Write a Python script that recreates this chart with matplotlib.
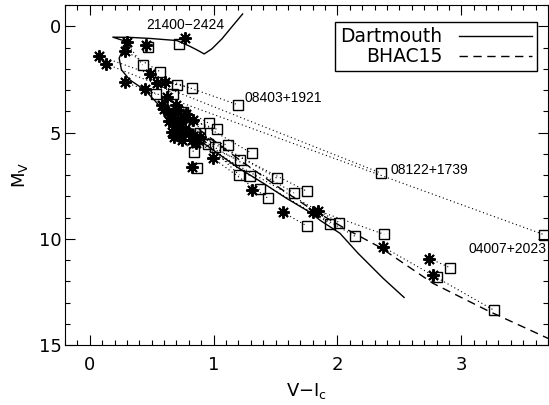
import numpy as np
import matplotlib
matplotlib.use("Agg")
import matplotlib.pyplot as plt
from matplotlib.ticker import MultipleLocator

# Isochrones (V-Ic, Mv)
dart_x = [1.234, 1.148, 1.067, 0.986, 0.924, 0.865, 0.808, 0.703, 0.485, 0.323, 0.186,
          0.297, 0.267, 0.237, 0.256, 0.323, 0.445, 0.620, 0.863, 1.186, 1.400, 1.590,
          1.778, 1.860, 2.020, 2.166, 2.369, 2.538]
dart_y = [-0.58, 0.02, 0.59, 1.06, 1.30, 1.11, 0.94, 0.67, 0.57, 0.52, 0.51,
          0.72, 1.11, 1.50, 2.05, 2.52, 3.00, 4.09, 5.27, 6.61, 7.38, 8.10,
          8.75, 9.13, 9.74, 10.68, 11.86, 12.76]
bhac_x = [0.606, 0.889, 1.213, 1.536, 1.778, 2.045, 2.344, 2.773, 3.209, 3.702]
bhac_y = [3.70, 4.88, 6.30, 7.62, 8.56, 9.46, 10.40, 12.10, 13.37, 14.69]

# Binary pairs: primary (asterisk) -> secondary (square)
pri_x = [0.768, 0.453, 0.297, 0.283, 0.075, 0.135, 0.283, 0.485, 0.606, 0.539,
         0.445, 0.580, 0.700, 0.630, 0.752, 0.728, 0.833, 0.660, 0.710, 0.741,
         0.822, 0.889, 0.770, 0.822, 0.660, 1.307, 0.994, 0.800, 0.640, 1.563,
         0.860, 0.740, 1.805, 1.843, 2.371, 2.743, 2.775]
pri_y = [0.56, 0.87, 0.76, 1.14, 1.39, 1.78, 2.63, 2.25, 2.60, 2.65,
         2.96, 3.70, 3.70, 4.02, 4.32, 4.55, 4.41, 4.96, 3.95, 5.35,
         5.35, 5.20, 4.85, 6.63, 4.25, 7.68, 6.20, 5.00, 4.45, 8.76,
         5.50, 5.05, 8.75, 8.68, 10.39, 10.93, 11.72]
sec_x = [0.722, 0.471, 0.426, 0.566, 1.199, 2.352, 3.665, 0.701, 0.822, 0.673,
         0.534, 0.754, 0.964, 1.029, 0.889, 0.956, 1.011, 1.118, 1.307, 0.841,
         1.213, 1.207, 1.293, 0.863, 1.514, 1.374, 1.441, 1.649, 1.752, 1.754,
         1.940, 2.015, 2.142, 2.377, 3.266, 2.910, 2.803]
sec_y = [0.83, 0.98, 1.82, 2.13, 3.70, 6.91, 9.80, 2.76, 2.92, 3.18,
         3.20, 4.02, 4.57, 4.85, 5.01, 5.54, 5.68, 5.59, 5.97, 5.91,
         6.30, 7.00, 7.03, 6.65, 7.16, 7.67, 8.10, 7.84, 7.76, 9.40,
         9.28, 9.24, 9.88, 9.79, 13.37, 11.36, 11.80]

# single stars in the dense part of the sequence
sgl_x = [0.60, 0.70, 0.68, 0.78, 0.62, 0.83, 0.66, 0.73]
sgl_y = [3.90, 4.70, 5.20, 4.15, 3.35, 5.15, 4.30, 4.95]

names = ["21400\u22122424", "08403+1921", "08122+1739", "04007+2023"]
name_x = [0.46, 1.253, 2.425, 3.056]
name_y = [-0.07, 3.37, 6.77, 10.50]

fig = plt.figure(figsize=(5.49, 4.05), dpi=100)
ax = fig.add_axes([0.1184, 0.148, 0.8798, 0.8395])

for x0, y0, x1, y1 in zip(pri_x, pri_y, sec_x, sec_y):
    ax.plot([x0, x1], [y0, y1], color="black", lw=0.8, ls=(0, (1, 2.5)))

ax.plot(dart_x, dart_y, color="black", lw=1.0, label="Dartmouth")
ax.plot(bhac_x, bhac_y, color="black", lw=1.0, ls=(0, (6, 4)), label="BHAC15")

ax.plot(sec_x, sec_y, ls="none", marker="s", ms=7, mfc="none", mec="black", mew=1.0)
ax.plot(pri_x, pri_y, ls="none", marker=(8, 2, 0), ms=9, mec="black", mew=1.4)
ax.plot(sgl_x, sgl_y, ls="none", marker=(8, 2, 0), ms=9, mec="black", mew=1.4)

for t, x, y in zip(names, name_x, name_y):
    ax.text(x, y, t, fontsize=10, family="Liberation Sans", va="center", ha="left")

ax.set_xlim(-0.2, 3.7)
ax.set_ylim(15, -1)
ax.xaxis.set_major_locator(MultipleLocator(1))
ax.xaxis.set_minor_locator(MultipleLocator(0.1))
ax.yaxis.set_major_locator(MultipleLocator(5))
ax.yaxis.set_minor_locator(MultipleLocator(1))
ax.tick_params(which="both", direction="in", top=True, right=True, labelsize=13)
ax.tick_params(axis="x", which="major", pad=8)
ax.tick_params(axis="y", which="major", pad=2.5)
ax.tick_params(which="major", length=7, width=0.8)
ax.tick_params(which="minor", length=3.5, width=0.8)
for s in ax.spines.values():
    s.set_linewidth(0.8)

ax.set_xlabel("V\u2212I$_{\\rm c}$", fontsize=13, labelpad=5)
ax.set_ylabel("M$_{\\rm V}$", fontsize=13, labelpad=6)

leg = ax.legend(loc="upper right", bbox_to_anchor=(0.978, 0.95), borderaxespad=0,
                markerfirst=False, fontsize=13.5, handlelength=3.9,
                fancybox=False, framealpha=1, edgecolor="black", borderpad=0.28,
                labelspacing=0.05, handletextpad=0.9)
leg.get_frame().set_linewidth(1.0)

fig.savefig("out.png", dpi=100)
